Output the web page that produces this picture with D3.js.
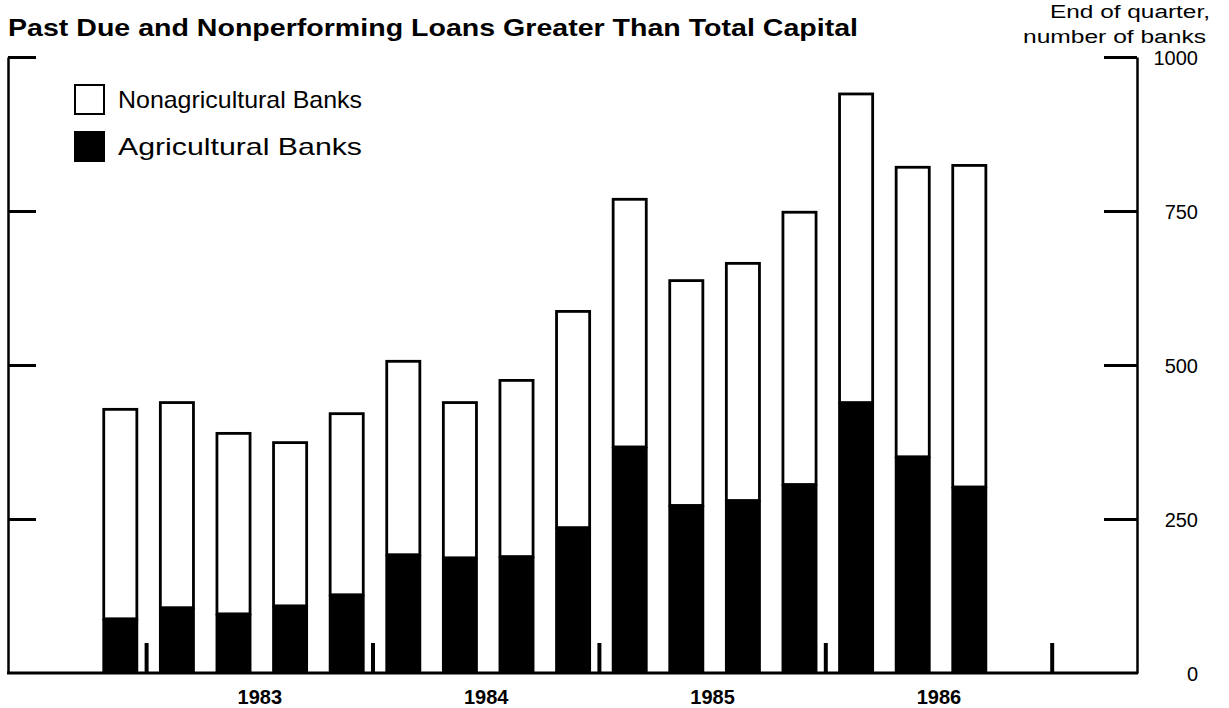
<!DOCTYPE html>
<head>
    <title>Past Due and Nonperforming Loans</title>
    <script src="https://cdn.jsdelivr.net/npm/d3@7"></script>
    <style>
        body { margin: 0; background: #fff; }
        text { font-family: "Liberation Sans", Arial, sans-serif; fill: #000; }
    </style>
</head>
<body>

<div id="container"></div>

<script>

// Données (fin de trimestre, nombre de banques)
const quarters = ["1982Q4",
    "1983Q1", "1983Q2", "1983Q3", "1983Q4",
    "1984Q1", "1984Q2", "1984Q3", "1984Q4",
    "1985Q1", "1985Q2", "1985Q3", "1985Q4",
    "1986Q1", "1986Q2", "1986Q3", "1986Q4"];
const agricultural    = [88, 106, 96, 109, 127, 192, 187, 189, 236, 367, 272, 280, 306, 439, 351, 302];
const nonagricultural = [340, 333, 293, 265, 294, 314, 252, 286, 351, 402, 365, 385, 442, 501, 470, 522];
const years = ["1983", "1984", "1985", "1986"];
const yTicks = [0, 250, 500, 750, 1000];

// Dimensions
const width = 1229;
const height = 708;
const plotLeft = 8;
const plotRight = 1137;
const plotTop = 57;
const plotBottom = 673;

const svg = d3.create("svg")
    .attr("width", width)
    .attr("height", height);

// Échelles
const x = d3.scaleBand()
    .domain(quarters)
    .range([92, 92 + 56.6 * quarters.length])
    .paddingInner(0.415)
    .paddingOuter(0.2075);

const y = d3.scaleLinear()
    .domain([0, 1000])
    .range([plotBottom, plotTop]);

const data = agricultural.map((a, i) => ({
    q: quarters[i],
    ag: a,
    nonag: nonagricultural[i]
}));

// Barres : non agricoles (blanc) empilées sur agricoles (noir)
const bars = svg.append("g");
bars.selectAll(".nonag")
    .data(data)
    .enter().append("rect")
    .attr("class", "nonag")
    .attr("x", d => x(d.q))
    .attr("y", d => y(d.ag + d.nonag))
    .attr("width", x.bandwidth())
    .attr("height", d => y(d.ag) - y(d.ag + d.nonag))
    .style("fill", "#fff")
    .style("stroke", "#000")
    .style("stroke-width", 2.8);

bars.selectAll(".ag")
    .data(data)
    .enter().append("rect")
    .attr("class", "ag")
    .attr("x", d => x(d.q) - 1.4)
    .attr("y", d => y(d.ag))
    .attr("width", x.bandwidth() + 2.8)
    .attr("height", d => y(0) - y(d.ag))
    .style("fill", "#000");

// Repères des années (petits traits entre Q4 et Q1)
const step = x.step();
const yearBounds = [1, 5, 9, 13, 17].map(k => x(quarters[0]) - step * x.paddingInner() / 2 + k * step);
svg.append("g").selectAll("line")
    .data(yearBounds)
    .enter().append("line")
    .attr("x1", d => d - 2)
    .attr("x2", d => d - 2)
    .attr("y1", plotBottom)
    .attr("y2", plotBottom - 30)
    .style("stroke", "#000")
    .style("stroke-width", 4);

// Étiquettes des années
svg.append("g").selectAll("text")
    .data(years)
    .enter().append("text")
    .attr("x", (d, i) => (yearBounds[i] + yearBounds[i + 1]) / 2 - 2)
    .attr("y", 704)
    .attr("text-anchor", "middle")
    .style("font-size", "20px")
    .style("font-weight", "bold")
    .text(d => d);

// Axe de gauche
const leftAxis = svg.append("g")
    .attr("transform", `translate(${plotLeft},0)`)
    .call(d3.axisRight(y).tickValues(yTicks.slice(1)).tickSize(28).tickSizeOuter(0).tickFormat(""));
leftAxis.select(".domain").style("stroke-width", 2.5);
leftAxis.selectAll(".tick line").style("stroke-width", 3);

// Axe de droite
const rightAxis = svg.append("g")
    .attr("transform", `translate(${plotRight},0)`)
    .call(d3.axisLeft(y).tickValues(yTicks).tickSize(33).tickSizeOuter(0).tickFormat(d3.format("d")));
rightAxis.select(".domain").style("stroke-width", 2.5);
rightAxis.selectAll(".tick line")
    .style("stroke-width", 3)
    .style("display", d => d === 0 ? "none" : null);
rightAxis.selectAll(".tick text")
    .attr("x", 61)
    .attr("dy", "0.35em")
    .attr("text-anchor", "end")
    .style("font-size", "20px")
    .style("font-family", "'Liberation Sans', Arial, sans-serif");

// Ligne de base
svg.append("line")
    .attr("x1", plotLeft - 1)
    .attr("x2", plotRight + 1)
    .attr("y1", y(0))
    .attr("y2", y(0))
    .style("stroke", "#000")
    .style("stroke-width", 3);

// Titre
svg.append("text")
    .attr("x", 8)
    .attr("y", 36)
    .attr("textLength", 850)
    .attr("lengthAdjust", "spacingAndGlyphs")
    .style("font-size", "24px")
    .style("font-weight", "bold")
    .text("Past Due and Nonperforming Loans Greater Than Total Capital");

// Unité de l'axe de droite
svg.append("text")
    .attr("x", 1210)
    .attr("y", 18)
    .attr("text-anchor", "end")
    .attr("textLength", 160)
    .attr("lengthAdjust", "spacingAndGlyphs")
    .style("font-size", "18px")
    .text("End of quarter,");
svg.append("text")
    .attr("x", 1206)
    .attr("y", 43)
    .attr("text-anchor", "end")
    .attr("textLength", 183)
    .attr("lengthAdjust", "spacingAndGlyphs")
    .style("font-size", "18px")
    .text("number of banks");

// Légende
const legendItems = [
    {label: "Nonagricultural Banks", fill: "#fff"},
    {label: "Agricultural Banks", fill: "#000"}
];
const legend = svg.append("g")
    .attr("transform", "translate(75,85)");
legend.selectAll("rect")
    .data(legendItems)
    .enter().append("rect")
    .attr("x", 0)
    .attr("y", (d, i) => i * 47)
    .attr("width", 29)
    .attr("height", 29)
    .style("fill", d => d.fill)
    .style("stroke", "#000")
    .style("stroke-width", 2);
legend.selectAll("text")
    .data(legendItems)
    .enter().append("text")
    .attr("x", 43)
    .attr("y", (d, i) => i * 47 + 23)
    .attr("textLength", 244)
    .attr("lengthAdjust", "spacingAndGlyphs")
    .style("font-size", "24px")
    .text(d => d.label);

document.getElementById("container").append(svg.node());

</script>

</body>
